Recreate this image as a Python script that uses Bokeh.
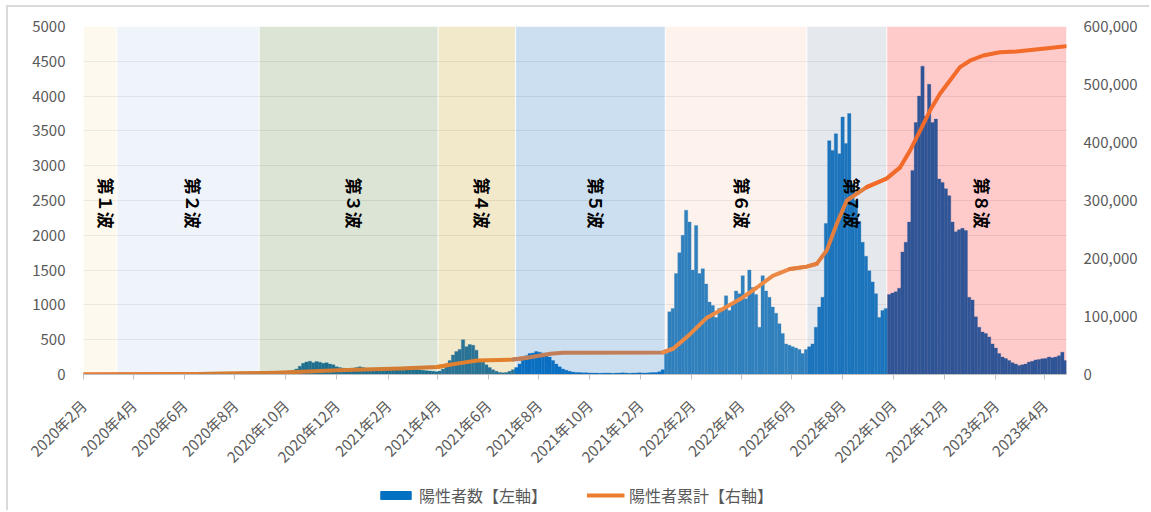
import numpy as np
import pandas as pd
from bokeh.plotting import figure
from bokeh.layouts import column
from bokeh.models import (Range1d, LinearAxis, FixedTicker, NumeralTickFormatter,
                          Legend, LegendItem, ColumnDataSource)
from bokeh.core.properties import value
from bokeh.embed import file_html
from bokeh.resources import INLINE

# ---------------- data ----------------
axis_start = "2020-02-01"
axis_end = "2023-04-27"

# positives, one value per 4-day step starting 2020-02-01
bar_step_days = 4
daily_cases = [
    0, 0, 1, 2, 4, 6, 8, 10, 12, 14,
    18, 22, 20, 15, 10, 6, 4, 2, 2, 1, 1,
    2, 3, 5, 8, 10, 12, 15, 20, 25, 30, 28, 25, 20, 18, 15, 12, 10, 8, 6, 5,
    5, 6, 8, 10, 12, 10, 8, 6, 5, 8, 10, 12,
    15, 20, 25, 30, 30, 35, 40, 40, 45, 50, 60, 80,
    120, 160, 180, 190, 170, 185, 175, 160, 170, 150, 140,
    110, 100, 90, 85, 80, 90, 100, 110, 100, 90,
    80, 75, 70, 80, 90, 85, 80, 75, 70, 65,
    60, 70, 80, 75, 70, 65, 60, 55, 50, 45, 40,
    50, 80, 130,
    200, 280, 330, 360, 500, 400, 430, 420, 350, 220,
    180, 140, 100, 70, 45, 30, 25, 30, 45, 70,
    100, 150, 220, 270, 300, 310, 330, 320, 310, 290,
    250, 200, 150, 110, 80, 60, 45,
    35, 30, 28, 25, 25, 22, 20, 20, 18, 20,
    22, 20, 18, 20, 22, 25, 20, 18, 20, 22,
    25, 20, 22, 25, 28, 30, 40,
    70, 300, 900, 950, 1450, 1750, 2000, 2360, 2190, 1500,
    2140, 1450, 1520, 1300, 1040, 990, 820, 950, 920, 1130,
    920, 1020, 1200, 1160, 1420, 1090, 1500, 1250, 1150, 680,
    1420, 1200, 1110, 970, 880, 730, 590, 440, 420, 400,
    380, 360, 300, 360,
    400, 440, 680, 970, 1110, 2170, 3360, 3220, 3460, 3170,
    3700, 3320, 3750, 2740, 2500, 2200, 1900, 1700, 1490, 1330,
    1160, 820, 920, 950,
    1150, 1170, 1190, 1240, 1760, 1900, 2190, 2930, 3620, 4000,
    4430, 3710, 4170, 3620, 3670, 2810, 2760, 2670, 2570, 2190,
    2050, 2080, 2100, 2070, 1110, 1070, 830, 680, 610, 590,
    540, 440, 380, 300, 250, 230, 200, 170, 150, 130,
    140, 150, 180, 190, 210, 215, 225, 230, 250, 240,
    250, 270, 320, 200,
]

cum_dates = [
    "2020-02-01", "2020-06-20", "2020-09-20", "2020-11-03", "2020-12-02",
    "2021-02-16", "2021-04-01", "2021-04-17", "2021-05-19", "2021-07-01",
    "2021-07-18", "2021-08-15", "2021-08-30", "2021-12-28", "2022-01-09",
    "2022-01-30", "2022-02-19", "2022-03-10", "2022-03-31", "2022-04-20",
    "2022-05-09", "2022-05-30", "2022-06-19", "2022-07-01", "2022-07-13",
    "2022-07-25", "2022-08-06", "2022-08-30", "2022-09-23", "2022-10-09",
    "2022-10-21", "2022-11-02", "2022-11-14", "2022-11-26", "2022-12-08",
    "2022-12-20", "2023-01-01", "2023-01-17", "2023-02-06", "2023-02-26",
    "2023-03-18", "2023-04-07", "2023-04-26",
]
cum_values = [
    0, 800, 2900, 5700, 7500,
    10500, 13000, 17000, 24000, 25700,
    29000, 35700, 37400, 38000, 44000,
    70000, 98000, 113000, 130000, 150000,
    170000, 182000, 186000, 191000, 214000,
    260000, 300000, 323000, 338000, 357000,
    386000, 420000, 455000, 484000, 507000,
    530000, 541000, 550000, 555600, 557000,
    560000, 563000, 566000,
]

wave_starts = ["2020-02-01", "2020-03-12", "2020-08-30", "2021-04-02",
               "2021-07-04", "2021-12-31", "2022-06-19", "2022-09-23"]
wave_labels = ["第１波", "第２波", "第３波", "第４波", "第５波", "第６波", "第７波", "第８波"]

x_tick_dates = ["2020-02-01", "2020-04-01", "2020-06-01", "2020-08-01", "2020-10-01",
                "2020-12-01", "2021-02-01", "2021-04-01", "2021-06-01", "2021-08-01",
                "2021-10-01", "2021-12-01", "2022-02-01", "2022-04-01", "2022-06-01",
                "2022-08-01", "2022-10-01", "2022-12-01", "2023-02-01", "2023-04-01"]
x_tick_labels = ["2020年2月", "2020年4月", "2020年6月", "2020年8月", "2020年10月",
                 "2020年12月", "2021年2月", "2021年4月", "2021年6月", "2021年8月",
                 "2021年10月", "2021年12月", "2022年2月", "2022年4月", "2022年6月",
                 "2022年8月", "2022年10月", "2022年12月", "2023年2月", "2023年4月"]

left_ticks = [0, 500, 1000, 1500, 2000, 2500, 3000, 3500, 4000, 4500, 5000]
right_ticks = [0, 100000, 200000, 300000, 400000, 500000, 600000]

series_names = ["陽性者数【左軸】", "陽性者累計【右軸】"]

# ---------------- styles ----------------
FONT = "Noto Sans CJK JP"
GREY_TXT = "#595959"
wave_bg = ["#FEF9EE", "#EFF4FA", "#DCE4D5", "#F2E8CA", "#CCDFF1", "#FDF3EC", "#E5E8ED", "#FFCACA"]
wave_bar = ["#1F6E9E", "#1F6E9E", "#1E6F8F", "#2A7396", "#0A6FC2", "#3080BD", "#1C75BC", "#2F5597"]
wave_line = ["#EE7F2D", "#E07E3A", "#D27C34", "#E3802E", "#C07F58", "#EC8A45", "#E47E3E", "#F26B2A"]
BG_ALPHA = 0.55


def under_alpha(hexc, a):
    h = hexc.lstrip("#")
    rgb = [int(h[i:i + 2], 16) for i in (0, 2, 4)]
    out = [max(0, min(255, round(255 - (255 - c) / a))) for c in rgb]
    return "#%02X%02X%02X" % tuple(out)


t0 = pd.Timestamp(axis_start)


def day(d):
    return (pd.Timestamp(d) - t0).days


x_end = day(axis_end)
starts = [day(d) for d in wave_starts]
ends = starts[1:] + [x_end]


def wave_of(x):
    w = 0
    for k, s in enumerate(starts):
        if x >= s:
            w = k
    return w


W = 1141
p = figure(width=W, height=473, x_range=Range1d(0, x_end), y_range=Range1d(0, 5000),
           output_backend="svg", toolbar_location=None,
           min_border_left=75, min_border_right=83, min_border_top=19, min_border_bottom=106)
p.outline_line_color = None
p.background_fill_color = "white"
p.border_fill_color = "white"
p.extra_y_ranges = {"cum": Range1d(0, 600000)}

p.xgrid.visible = False
p.ygrid.grid_line_color = "#D9D9D9"
p.ygrid.grid_line_width = 1
p.ygrid.ticker = FixedTicker(ticks=left_ticks)

# wave background bands
p.quad(left=starts, right=ends, bottom=0, top=5000,
       fill_color=[under_alpha(c, BG_ALPHA) for c in wave_bg], fill_alpha=BG_ALPHA,
       line_color=None)
p.segment(x0=starts[1:], y0=0, x1=starts[1:], y1=5000, line_color="white",
          line_width=1.2, line_alpha=0.8)

# bars
bx = [i * bar_step_days for i in range(len(daily_cases))]
bsrc = ColumnDataSource(dict(x=bx, top=daily_cases,
                             color=[wave_bar[wave_of(x)] for x in bx]))
p.vbar(x="x", top="top", width=bar_step_days, source=bsrc,
       fill_color="color", line_color="color", line_width=0.3)

# wave labels
mids = [(s + e) / 2 for s, e in zip(starts, ends)]
p.text(x=mids, y=[2460] * len(mids), text=wave_labels, angle=-np.pi / 2,
       text_font=value(FONT), text_font_style="bold", text_font_size="17px",
       text_align="center", text_baseline="middle", x_offset=6, text_color="black")

# cumulative line, coloured per wave band
cx = [day(d) for d in cum_dates]
for w in range(len(starts)):
    idx = [k for k, x in enumerate(cx) if starts[w] <= x <= ends[w]]
    if not idx:
        continue
    lo = max(0, idx[0] - 1)
    hi = min(len(cx) - 1, idx[-1] + 1)
    p.line(x=cx[lo:hi + 1], y=cum_values[lo:hi + 1], y_range_name="cum",
           line_color=wave_line[w], line_width=4, line_join="round", line_cap="round")

# axes
xa = p.xaxis[0]
xa.ticker = FixedTicker(ticks=[day(d) for d in x_tick_dates])
xa.major_label_overrides = {day(d): lab for d, lab in zip(x_tick_dates, x_tick_labels)}
xa.major_label_orientation = np.pi / 4
xa.axis_line_color = "#BFBFBF"
xa.major_tick_line_color = "#BFBFBF"
xa.major_tick_out = 5
xa.major_tick_in = 0
xa.minor_tick_line_color = None
xa.major_label_text_font = FONT
xa.major_label_text_font_size = "15px"
xa.major_label_text_color = GREY_TXT
xa.major_label_standoff = 23

ya = p.yaxis[0]
ya.ticker = FixedTicker(ticks=left_ticks)
ya.axis_line_color = None
ya.major_tick_line_color = None
ya.minor_tick_line_color = None
ya.major_tick_out = 0
ya.major_label_standoff = 18
ya.major_label_text_font = FONT
ya.major_label_text_font_size = "15px"
ya.major_label_text_color = GREY_TXT

ra = LinearAxis(y_range_name="cum", ticker=FixedTicker(ticks=right_ticks),
                formatter=NumeralTickFormatter(format="0,0"))
ra.axis_line_color = None
ra.major_tick_line_color = None
ra.minor_tick_line_color = None
ra.major_tick_out = 0
ra.major_label_standoff = 17
ra.major_label_text_font = FONT
ra.major_label_text_font_size = "15px"
ra.major_label_text_color = GREY_TXT
p.add_layout(ra, "right")

# legend strip (separate small figure under the chart); sample glyphs hold no drawable point
nan = float("nan")
leg = figure(width=W, height=30, x_range=Range1d(0, 1), y_range=Range1d(0, 1),
             x_axis_type=None, y_axis_type=None, output_backend="svg",
             toolbar_location=None, min_border=0)
leg.outline_line_color = None
leg.border_fill_color = "white"
r_bar = leg.vbar(x=[nan], top=[nan], width=1, fill_color="#0070C0", line_color="#0070C0")
r_line = leg.line(x=[nan, nan], y=[nan, nan], line_color="#ED7D31", line_width=4)
legend = Legend(items=[LegendItem(label=series_names[0], renderers=[r_bar]),
                       LegendItem(label=series_names[1], renderers=[r_line])],
                orientation="horizontal", location="center",
                glyph_width=38, glyph_height=10, label_standoff=5, spacing=39,
                padding=0, margin=0, border_line_color=None, background_fill_alpha=0,
                label_text_font=FONT, label_text_font_size="16px",
                label_text_color=GREY_TXT)
leg.add_layout(legend, "center")

layout = column(p, leg, spacing=0,
                styles={"margin-left": "6px", "margin-top": "5px",
                        "border-left": "2px solid #D9D9D9", "border-top": "2px solid #D9D9D9"})

open("out.html", "w").write(file_html(layout, INLINE))
